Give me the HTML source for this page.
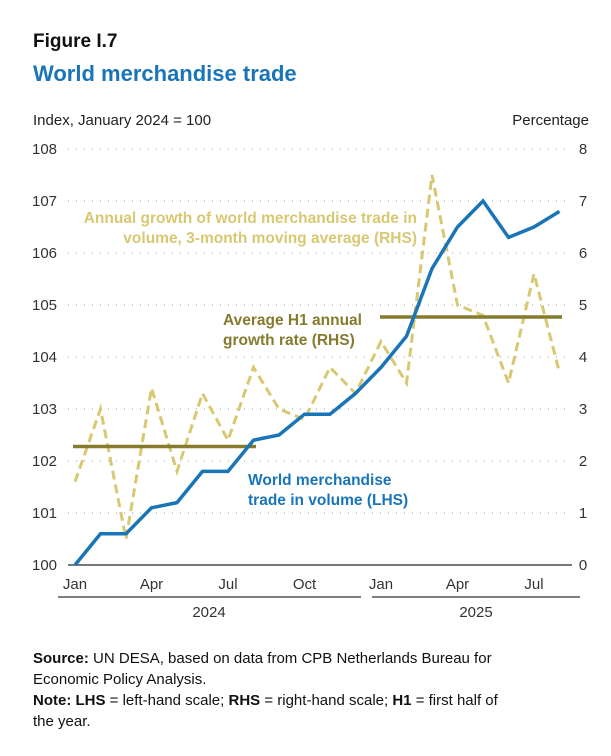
<!DOCTYPE html>
<html><head><meta charset="utf-8"><style>
body{margin:0;background:#fff;width:611px;height:756px;overflow:hidden;font-family:"Liberation Sans",sans-serif}
.t{position:absolute;margin:0}
</style></head><body>
<div class="t" style="left:33px;top:31px;font-size:19px;font-weight:bold;color:#111">Figure I.7</div>
<div class="t" style="left:33px;top:61px;font-size:22px;font-weight:bold;color:#1a75b8">World merchandise trade</div>
<svg width="611" height="756" style="position:absolute;left:0;top:0">
<g id="g"></g>
</svg>
<div class="t" style="left:33px;top:648px;width:475px;font-size:15px;line-height:21px;color:#111"><b>Source:</b> UN DESA, based on data from CPB Netherlands Bureau for Economic Policy Analysis.<br><b>Note: LHS</b> = left-hand scale; <b>RHS</b> = right-hand scale; <b>H1</b> = first half of the year.</div>
<script>
const months=["Jan","Feb","Mar","Apr","May","Jun","Jul","Aug","Sep","Oct","Nov","Dec","Jan","Feb","Mar","Apr","May","Jun","Jul","Aug"];
const volume=[100,100.6,100.6,101.1,101.2,101.8,101.8,102.4,102.5,102.9,102.9,103.3,103.8,104.4,105.7,106.5,107.0,106.3,106.5,106.8];
const growth=[1.6,3.0,0.5,3.4,1.8,3.3,2.4,3.8,3.0,2.8,3.8,3.3,4.3,3.5,7.5,5.0,4.8,3.5,5.6,3.7];
const h1Avg=[2.28,4.77];
const leftTicks=[100,101,102,103,104,105,106,107,108];
const rightTicks=[0,1,2,3,4,5,6,7,8];
const NS="http://www.w3.org/2000/svg",g=document.getElementById('g');
const x=i=>75+i*25.5;
const yL=v=>565-(v-100)*52;
const yR=v=>565-v*52;
function el(t,a,txt){const e=document.createElementNS(NS,t);for(const k in a)e.setAttribute(k,a[k]);if(txt!=null)e.textContent=txt;g.appendChild(e);return e;}
let e;
e=el('text',{x:33,y:125,'font-size':15,fill:'#222'},'Index, January 2024 = 100');

e=el('text',{x:589,y:125,'font-size':15,fill:'#222','text-anchor':'end'},'Percentage');

leftTicks.forEach((v,i)=>{
 if(i>0){e=el('line',{x1:68,x2:566,y1:yL(v),y2:yL(v),stroke:'#aaa','stroke-dasharray':'1 7','stroke-width':1.3});
 }
 e=el('text',{x:32,y:yL(v)+5,'font-size':15,fill:'#333'},v);
 
 e=el('text',{x:583,y:yR(rightTicks[i])+5,'font-size':15,fill:'#333','text-anchor':'middle'},rightTicks[i]);
 
});
e=el('line',{x1:68,x2:572,y1:565,y2:565,stroke:'#777','stroke-width':2});

months.forEach((m,i)=>{if(i%3==0){e=el('text',{x:x(i),y:589,'font-size':15,fill:'#333','text-anchor':'middle'},m);
 }});
e=el('line',{x1:58,x2:361,y1:597,y2:597,stroke:'#333','stroke-width':1.2});

e=el('line',{x1:372,x2:580,y1:597,y2:597,stroke:'#333','stroke-width':1.2});

e=el('text',{x:209,y:617,'font-size':15,fill:'#333','text-anchor':'middle'},'2024');

e=el('text',{x:476,y:617,'font-size':15,fill:'#333','text-anchor':'middle'},'2025');

e=el('polyline',{points:growth.map((v,i)=>x(i)+','+yR(v)).join(' '),fill:'none',stroke:'#d8c872','stroke-width':3,'stroke-dasharray':'9 5'});

e=el('line',{x1:73,x2:256,y1:yR(h1Avg[0]),y2:yR(h1Avg[0]),stroke:'#857a2e','stroke-width':3.5});

e=el('line',{x1:380,x2:562,y1:yR(h1Avg[1]),y2:yR(h1Avg[1]),stroke:'#857a2e','stroke-width':3.5});

e=el('polyline',{points:volume.map((v,i)=>x(i)+','+yL(v)).join(' '),fill:'none',stroke:'#1a75b8','stroke-width':3.5});

function lab(lines,xx,yy,col,anchor,name){lines.forEach((s,i)=>{e=el('text',{x:xx,y:yy+i*20,'font-size':15.5,'font-weight':'bold',fill:col,'text-anchor':anchor},s);
 });}
lab(['Annual growth of world merchandise trade in','volume, 3-month moving average (RHS)'],417,223,'#d8c872','end','growth-annotation');
lab(['Average H1 annual','growth rate (RHS)'],223,325,'#857a2e','start','h1-annotation');
lab(['World merchandise','trade in volume (LHS)'],248,485,'#1a75b8','start','volume-annotation');
</script>
</body></html>
